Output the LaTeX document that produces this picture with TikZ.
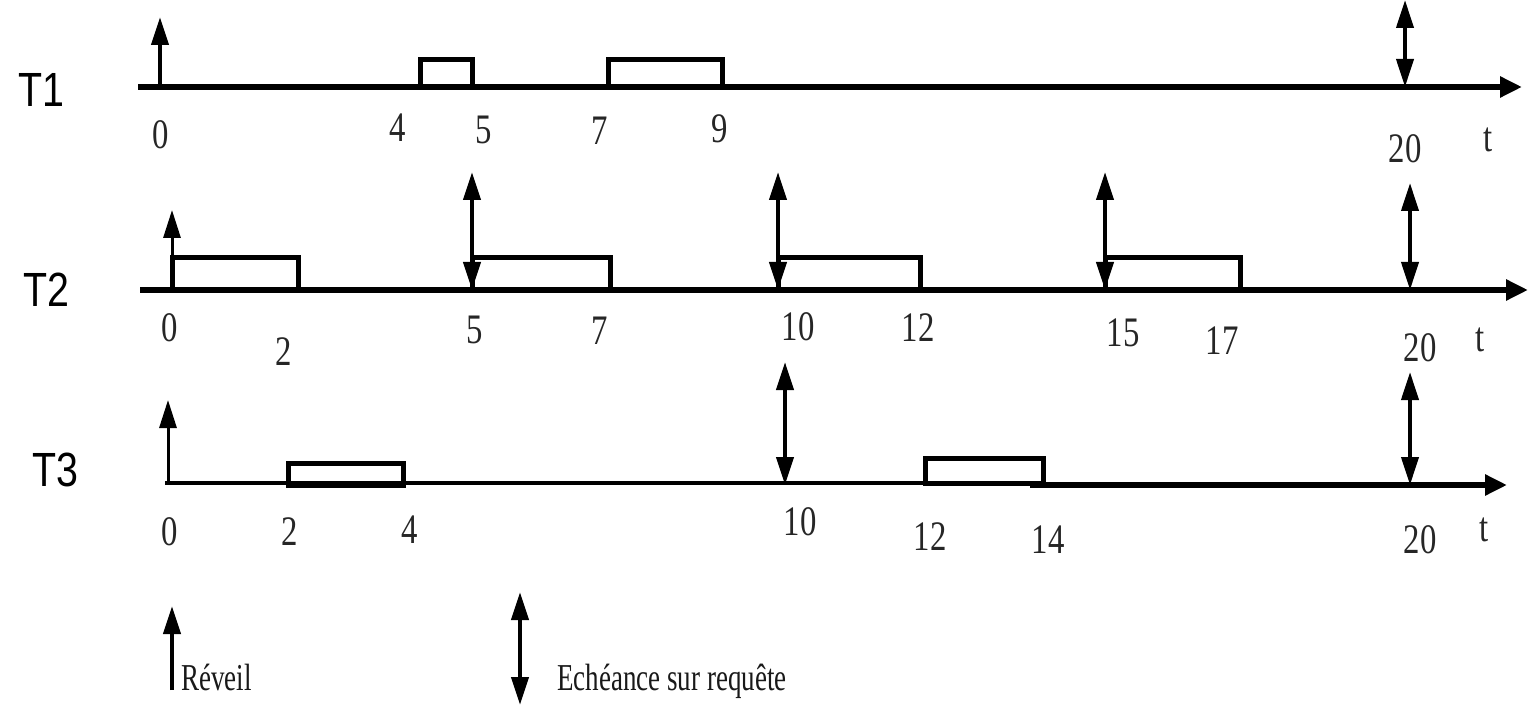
\documentclass[tikz,border=0pt]{standalone}
\usepackage{fontspec}
\setmainfont{Liberation Serif}
\newfontfamily\taskfont[FakeStretch=0.82]{Liberation Sans}
\newfontfamily\tickfont[FakeStretch=0.78]{Liberation Serif}
\newfontfamily\legendfont[FakeStretch=0.71]{Liberation Serif}
\usetikzlibrary{arrows.meta}
\begin{document}
\begin{tikzpicture}[x=0.5pt,y=-0.5pt,
  axisline/.style={line width=3pt,-{Triangle[length=11pt,width=10pt]}},
  slot/.style={draw,line width=2.5pt},
  wake/.style={line width=2pt,-{Triangle[length=14pt,width=8.5pt]}},
  deadline/.style={line width=2pt,{Triangle[length=14pt,width=8.5pt]}-{Triangle[length=14pt,width=8.5pt]}},
  tick/.style={font=\tickfont\fontsize{21}{21}\selectfont,inner sep=0pt,text=black!85},
  task/.style={font=\taskfont\fontsize{24}{24}\selectfont,inner sep=0pt},
  legend/.style={font=\legendfont\fontsize{19}{19}\selectfont,inner sep=0pt,anchor=base west,text=black!90}]
\useasboundingbox (0,0) rectangle (1529,705);

% task names
\node[task] (T1) at (41,90) {T1};
\node[task] (T2) at (46,290) {T2};
\node[task] (T3) at (55,470) {T3};

% ---------------- T1 ----------------
\coordinate (a1s) at (138,87);
\coordinate (a1e) at (1522,87);
\draw[axisline] (a1s) -- (a1e);
\draw[slot] (420,87) rectangle (472,60);
\draw[slot] (608,87) rectangle (722,60);
\coordinate (w10) at (160,87);   \coordinate (w10t) at (160,17);
\draw[wake] (w10) -- (w10t);
\coordinate (d120) at (1405,87); \coordinate (d120t) at (1405,0);
\draw[deadline] (d120) -- (d120t);
\node[tick] (t1n0)  at (161,135) {0};
\node[tick] (t1n4)  at (398,128) {4};
\node[tick] (t1n5)  at (484,130) {5};
\node[tick] (t1n7)  at (600,131) {7};
\node[tick] (t1n9)  at (720,129) {9};
\node[tick] (t1n20) at (1405,149) {20};
\node[tick] (t1t)   at (1488,140) {t};

% ---------------- T2 ----------------
\coordinate (a2s) at (140,290);
\coordinate (a2e) at (1528,290);
\draw[axisline] (a2s) -- (a2e);
\draw[slot] (172,290) rectangle (298,258);
\draw[slot] (472,290) rectangle (610,258);
\draw[slot] (778,290) rectangle (920,258);
\draw[slot] (1105,290) rectangle (1240,258);
\coordinate (w20) at (172,290);  \coordinate (w20t) at (172,210);
\draw[wake,line width=1.5pt] (w20) -- (w20t);
\foreach \x/\top in {472/172, 778/172, 1105/172, 1410/183}{
  \coordinate (d2-\x) at (\x,290);
  \coordinate (d2-\x t) at (\x,\top);
  \draw[deadline] (d2-\x) -- (d2-\x t);
}
\node[tick] (t2n0)  at (170,328) {0};
\node[tick] (t2n2)  at (284,352) {2};
\node[tick] (t2n5)  at (475,330) {5};
\node[tick] (t2n7)  at (600,331) {7};
\node[tick] (t2n10) at (798,327) {10};
\node[tick] (t2n12) at (918,328) {12};
\node[tick] (t2n15) at (1123,333) {15};
\node[tick] (t2n17) at (1222,341) {17};
\node[tick] (t2n20) at (1420,348) {20};
\node[tick] (t2t)   at (1480,340) {t};

% ---------------- T3 ----------------
\coordinate (a3s) at (165,483);
\coordinate (a3m) at (1030,485);
\coordinate (a3e) at (1507,485);
\draw[line width=2pt] (a3s) -- (1043,483);
\draw[axisline] (a3m) -- (a3e);
\draw[slot] (288,485) rectangle (403,463);
\draw[slot] (925,483) rectangle (1043,458);
\coordinate (w30) at (168,483);  \coordinate (w30t) at (168,400);
\draw[wake,line width=1.5pt] (w30) -- (w30t);
\foreach \x/\top in {785/362, 1410/372}{
  \coordinate (d3-\x) at (\x,485);
  \coordinate (d3-\x t) at (\x,\top);
  \draw[deadline] (d3-\x) -- (d3-\x t);
}
\node[tick] (t3n0)  at (170,532) {0};
\node[tick] (t3n2)  at (290,532) {2};
\node[tick] (t3n4)  at (410,530) {4};
\node[tick] (t3n10) at (800,522) {10};
\node[tick] (t3n12) at (930,537) {12};
\node[tick] (t3n14) at (1048,540) {14};
\node[tick] (t3n20) at (1420,540) {20};
\node[tick] (t3t)   at (1484,530) {t};

% ---------------- legend ----------------
\coordinate (lw) at (172,690);  \coordinate (lwt) at (172,606);
\draw[wake] (lw) -- (lwt);
\node[legend] (lwtext) at (181,690) {Réveil};
\coordinate (ld) at (520,705);  \coordinate (ldt) at (520,592);
\draw[deadline] (ld) -- (ldt);
\node[legend] (ldtext) at (557,690) {Echéance sur requête};
\end{tikzpicture}
\end{document}
